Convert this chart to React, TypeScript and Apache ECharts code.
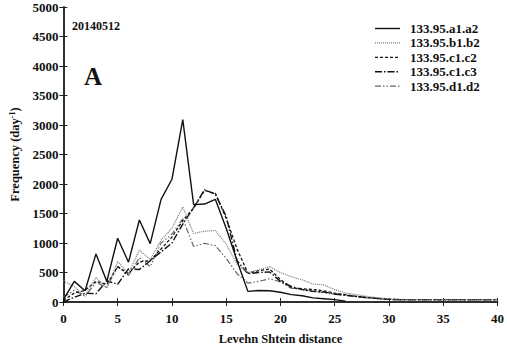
import React, { useEffect, useRef } from "react";
import * as echarts from "echarts";

const xs = Array.from({ length: 41 }, (_, i) => i);
const seriesNames = ["133.95.a1.a2", "133.95.b1.b2", "133.95.c1.c2", "133.95.c1.c3", "133.95.d1.d2"];
const a1a2 = [40, 350, 190, 815, 350, 1080, 675, 1390, 990, 1740, 2080, 3090, 1650, 1660, 1740, 1250, 700, 180, 195, 190, 165, 125, 105, 70, 55, 40, 15];
const b1b2 = [360, 260, 100, 415, 235, 685, 490, 880, 720, 1050, 1250, 1610, 1160, 1200, 1210, 980, 640, 500, 545, 600, 500, 430, 375, 305, 290, 210, 150, 125, 95, 70, 55, 45, 40, 40, 40, 40, 40, 40, 40, 40, 40];
const c1c2 = [30, 150, 200, 350, 300, 600, 480, 680, 700, 900, 1100, 1380, 1590, 1890, 1840, 1420, 900, 490, 530, 560, 380, 240, 225, 210, 190, 150, 125, 95, 75, 60, 45, 40, 40, 40, 40, 40, 40, 40, 40, 40, 40];
const c1c3 = [0, 80, 150, 140, 360, 300, 560, 550, 700, 850, 1000, 1320, 1600, 1900, 1830, 1450, 700, 480, 500, 510, 350, 265, 210, 180, 170, 135, 115, 95, 75, 60, 45, 40, 40, 40, 40, 40, 40, 40, 40, 40, 40];
const d1d2 = [80, 200, 100, 330, 250, 600, 450, 750, 600, 1000, 1150, 1410, 940, 995, 955, 740, 480, 320, 350, 395, 340, 235, 210, 180, 160, 130, 110, 90, 70, 55, 40, 35, 35, 35, 35, 35, 35, 35, 35, 35, 35];
const xTicks = [0, 5, 10, 15, 20, 25, 30, 35, 40];
const yTicks = [0, 500, 1000, 1500, 2000, 2500, 3000, 3500, 4000, 4500, 5000];

const FONT = "'Liberation Serif', 'Times New Roman', serif";

export default function App() {
  const ref = useRef<HTMLDivElement>(null);
  useEffect(() => {
    if (!ref.current) return;
    const chart = echarts.init(ref.current, undefined, { renderer: "svg" });
    const lbl = { fontFamily: FONT, fontWeight: "bold" as const, fontSize: 13, color: "#111" };
    const axisLine = { show: true, lineStyle: { color: "#222", width: 1.5 } };
    const tick = { show: true, inside: true, length: 4, lineStyle: { color: "#222", width: 1 } };
    const styles = [
      { color: "#111", type: "solid" as any, width: 1.4 },
      { color: "#777", type: [1, 1] as any, width: 1.2 },
      { color: "#111", type: [3, 2] as any, width: 1.3 },
      { color: "#111", type: [7, 2, 1.5, 2] as any, width: 1.4 },
      { color: "#5d6b63", type: [6, 2, 1.5, 2, 1.5, 2] as any, width: 1.2 },
    ];
    const datas = [a1a2, b1b2, c1c2, c1c3, d1d2];
    const legendEls: any[] = [];
    seriesNames.forEach((n, i) => {
      const y = 28.5 + i * 14.4;
      legendEls.push({
        type: "line",
        shape: { x1: 375, y1: y, x2: 400, y2: y },
        style: {
          stroke: styles[i].color,
          lineWidth: styles[i].width,
          lineDash: Array.isArray(styles[i].type) ? styles[i].type : null,
        },
      });
      legendEls.push({
        type: "text",
        x: 410,
        y,
        style: { text: n, font: `bold 13px ${FONT}`, fill: "#111", verticalAlign: "middle" },
      });
    });
    chart.setOption({
      animation: false,
      grid: { left: 56, right: 4, top: 7, bottom: 46 },
      xAxis: [
        {
          type: "value",
          min: 0,
          max: 40,
          interval: 5,
          axisLine,
          axisTick: tick,
          splitLine: { show: false },
          axisLabel: { ...lbl, margin: 10, formatter: (v: number) => (xTicks.includes(v) ? String(v) : "") },
          name: "Levehn Shtein distance",
          nameLocation: "middle",
          nameGap: 30,
          nameTextStyle: { ...lbl, fontSize: 12.5 },
        },
        {
          type: "value",
          position: "top",
          min: 0,
          max: 40,
          interval: 5,
          axisLine,
          axisTick: tick,
          axisLabel: { show: false },
          splitLine: { show: false },
        },
      ],
      yAxis: [
        {
          type: "value",
          min: 0,
          max: 5000,
          interval: 500,
          axisLine,
          axisTick: tick,
          splitLine: { show: false },
          axisLabel: { ...lbl, margin: 5, formatter: (v: number) => (yTicks.includes(v) ? String(v) : "") },
          name: "Frequency (day{s|-1})",
          nameLocation: "middle",
          nameGap: 41,
          nameTextStyle: { ...lbl, fontSize: 12.5, rich: { s: { ...lbl, fontSize: 8, verticalAlign: "top", padding: [0, 0, 6, 0] } } },
        },
        {
          type: "value",
          position: "right",
          min: 0,
          max: 5000,
          interval: 500,
          axisLine,
          axisTick: tick,
          axisLabel: { show: false },
          splitLine: { show: false },
        },
      ],
      graphic: [
        { type: "text", left: 72, top: 20, style: { text: "20140512", font: `bold 12px ${FONT}`, fill: "#111" } },
        { type: "text", left: 84, top: 64, style: { text: "A", font: `bold 25px ${FONT}`, fill: "#111" } },
        ...legendEls,
      ],
      series: datas.map((d, i) => ({
        name: seriesNames[i],
        type: "line",
        xAxisIndex: 0,
        yAxisIndex: 0,
        symbol: "none",
        showSymbol: false,
        lineStyle: styles[i],
        itemStyle: { color: styles[i].color },
        data: d.map((v, j) => [xs[j], v]),
        z: 5 - i,
      })),
    });
    return () => chart.dispose();
  }, []);
  return <div ref={ref} style={{ width: 507, height: 350, position: "absolute", left: 0, top: 0, background: "#fff" }} />;
}
